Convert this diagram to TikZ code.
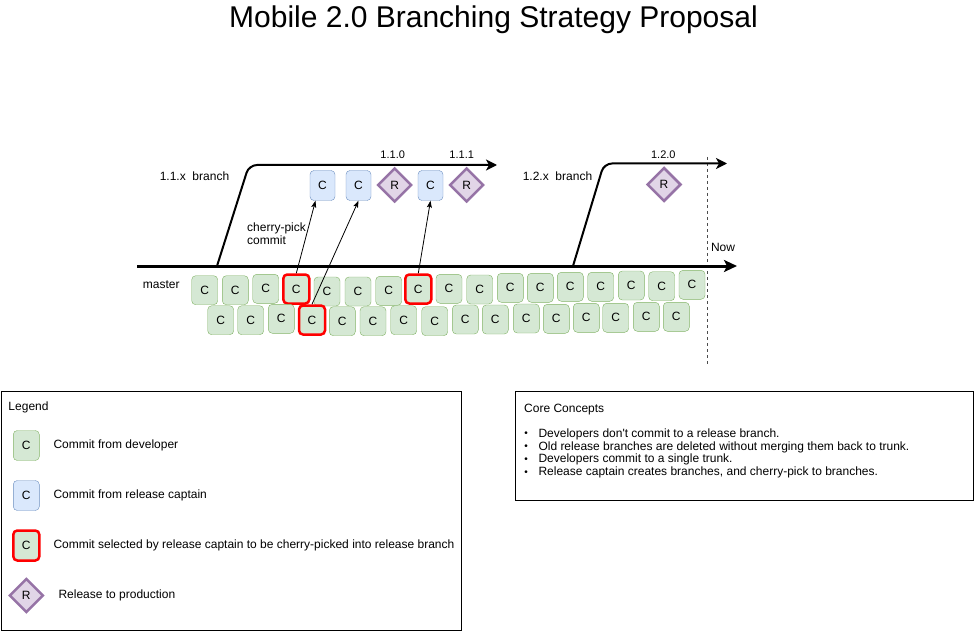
\documentclass[tikz,border=0pt]{standalone}
\usepackage{fontspec}
\setmainfont{Liberation Sans}[Ligatures=TeXOff]
\usetikzlibrary{shapes.geometric,arrows.meta,calc}
\definecolor{gfill}{HTML}{D5E8D4}
\definecolor{gstroke}{HTML}{82B366}
\definecolor{bfill}{HTML}{DAE8FC}
\definecolor{bstroke}{HTML}{6C8EBF}
\definecolor{pfill}{HTML}{E1D5E7}
\definecolor{pstroke}{HTML}{9673A6}
\definecolor{pickred}{HTML}{FF0000}
\begin{document}
\begin{tikzpicture}[x=1pt,y=-1pt,
  f12/.style={font=\fontsize{12}{13}\selectfont},
  f11/.style={font=\fontsize{11}{13}\selectfont},
  gcommit/.style={draw=gstroke, fill=gfill, rounded corners=4pt, minimum width=26pt, minimum height=29pt, inner sep=0pt, f12},
  pick/.style={gcommit, draw=pickred, line width=2.5pt},
  bcommit/.style={draw=bstroke, fill=bfill, rounded corners=4pt, minimum width=25pt, minimum height=30pt, inner sep=0pt, f12},
  rel/.style={diamond, draw=pstroke, fill=pfill, line width=2.5pt, minimum width=34pt, minimum height=34pt, inner sep=0pt, f12},
  trunk/.style={line width=3pt, -{Stealth[length=13pt,width=12pt,inset=3pt]}},
  branchline/.style={line width=2pt, rounded corners=8pt, -{Stealth[length=11pt,width=11pt,inset=3pt]}},
  picker/.style={line width=0.8pt, -{Stealth[length=7pt,width=5pt,inset=1.5pt]}},
  lbl/.style={f12, inner sep=0pt},
  framebox/.style={draw=black, line width=1pt}
]
\useasboundingbox (0,0) rectangle (974,631);

% title
\node[font=\fontsize{30}{36}\selectfont, inner sep=0pt] (title) at (493.5,20) {Mobile 2.0 Branching Strategy Proposal};

% master line
\coordinate (m0) at (137,266);
\coordinate (m1) at (737,266);
\coordinate (br1) at (217,266);
\coordinate (br1c) at (249,165);
\coordinate (br1e) at (497,165);
\coordinate (br2) at (573,266);
\coordinate (br2c) at (604,163.5);
\coordinate (br2e) at (727,163.5);
\coordinate (nowtop) at (707.3,157);
\coordinate (nowbot) at (707.3,365);

\draw[dash pattern=on 3pt off 3pt, line width=0.6pt, black!70] (nowtop) -- (nowbot);
\draw[branchline] (br1) -- (br1c) -- (br1e);
\draw[branchline] (br2) -- (br2c) -- (br2e);
\draw[trunk] (m0) -- (m1);

% labels
\node[lbl] (lmaster) at (161.3,285) {master};
\node[lbl] (lb1) at (194.5,176) {1.1.x\ \ branch};
\node[lbl] (lb2) at (557.5,176) {1.2.x\ \ branch};
\node[lbl, f11] (v110) at (392.7,155) {1.1.0};
\node[lbl, f11] (v111) at (461.7,155) {1.1.1};
\node[lbl, f11] (v120) at (663.3,155) {1.2.0};
\node[lbl] (lnow) at (723,247) {Now};
\node[lbl, anchor=west, align=left] (lcp) at (247,233.5) {cherry-pick\\commit};

% release branch commits
\node[bcommit] (c1) at (322.5,185.5) {C};
\node[bcommit] (c2) at (358.5,185.5) {C};
\node[rel] (r1) at (394.7,185) {R};
\node[bcommit] (c3) at (430.5,185.5) {C};
\node[rel] (r2) at (466.7,185) {R};
\node[rel] (r3) at (664,184.5) {R};

% master commits, top row
\foreach \i/\x/\y/\s in {1/204.7/290.2/gcommit, 2/235.3/290.2/gcommit, 3/265.7/288.8/gcommit,
  4/296.3/289/pick, 5/327/291.5/gcommit, 6/358/291.5/gcommit, 7/388.7/290.8/gcommit,
  8/418.3/289/pick, 9/449/288.8/gcommit, 10/479.7/289.5/gcommit, 11/510.3/287.8/gcommit,
  12/540.3/287.8/gcommit, 13/570.3/286.8/gcommit, 14/600.7/286.8/gcommit,
  15/631.3/285.5/gcommit, 16/661.7/286.2/gcommit, 17/692/284.8/gcommit}
  \node[\s] (t\i) at (\x,\y) {C};

% master commits, bottom row
\foreach \i/\x/\y/\s in {1/220.7/320.2/gcommit, 2/250.7/320.2/gcommit, 3/281.3/318.8/gcommit,
  4/312/320/pick, 5/342.3/321.2/gcommit, 6/373/321.2/gcommit, 7/403.7/320.2/gcommit,
  8/434.7/321.2/gcommit, 9/465.3/319.5/gcommit, 10/495.3/319.5/gcommit, 11/526.3/318.5/gcommit,
  12/556.3/318.8/gcommit, 13/586.3/317.8/gcommit, 14/615.7/317.8/gcommit,
  15/646.3/316.8/gcommit, 16/676.3/316.8/gcommit}
  \node[\s] (b\i) at (\x,\y) {C};

% cherry-pick arrows
\draw[picker] (t4.north) -- ($(c1.south)+(-7,0)$);
\draw[picker] (b4.north) -- (c2.south);
\draw[picker] (t8.north) -- (c3.south);

% legend
\node[framebox, minimum width=460pt, minimum height=239.5pt, inner sep=0pt, anchor=north west] (legend) at (0.5,390.5) {};
\node[lbl, anchor=west] (legtitle) at (8.3,407.3) {Legend};
\node[gcommit, minimum height=30pt] (lg1) at (26.3,445.5) {C};
\node[bcommit, minimum width=26pt] (lg2) at (26.3,495.5) {C};
\node[pick, minimum height=30pt] (lg3) at (26.3,545.5) {C};
\node[rel] (lg4) at (26.3,595.5) {R};
\node[lbl, anchor=west] (lt1) at (53.3,445) {Commit from developer};
\node[lbl, anchor=west] (lt2) at (53.3,495.7) {Commit from release captain};
\node[lbl, anchor=west] (lt3) at (53.3,545) {Commit selected by release captain to be cherry-picked into release branch};
\node[lbl, anchor=west] (lt4) at (58.3,595) {Release to production};

% core concepts
\node[framebox, minimum width=458pt, minimum height=109pt, inner sep=0pt, anchor=north west] (core) at (514.5,391) {};
\node[lbl, anchor=west] (coretitle) at (524,409.3) {Core Concepts};
\foreach \k/\yy/\t in {1/434/{Developers don't commit to a release branch.},
  2/447/{Old release branches are deleted without merging them back to trunk.},
  3/459.7/{Developers commit to a single trunk.},
  4/472.7/{Release captain creates branches, and cherry-pick to branches.}} {
  \node[lbl, font=\fontsize{10}{12}\selectfont] (bul\k) at (526,\yy) {•};
  \node[lbl, anchor=west] (ct\k) at (538.3,\yy) {\t};
}
\end{tikzpicture}
\end{document}
